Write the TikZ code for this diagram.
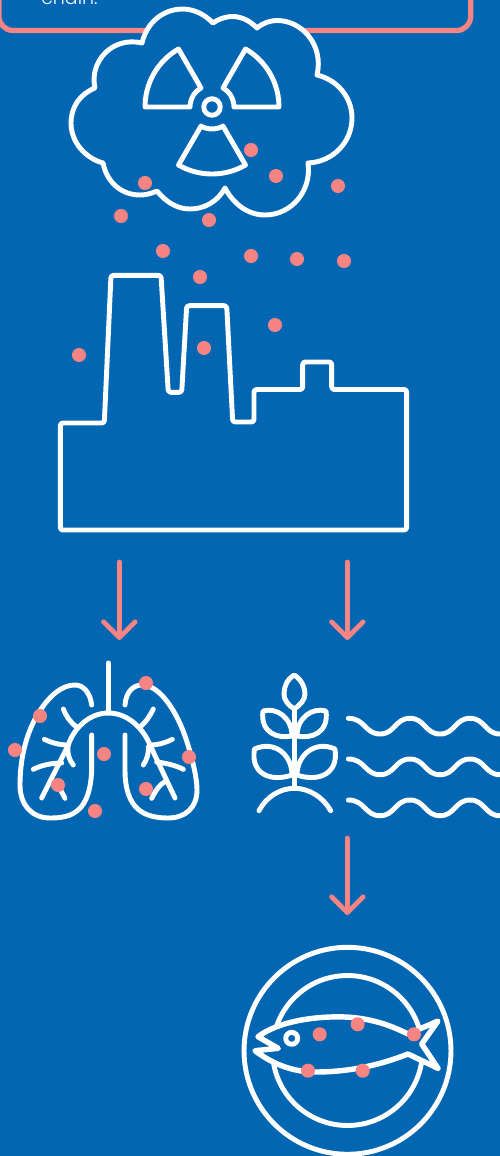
\documentclass[tikz,border=0pt]{standalone}
\usepackage{fontspec}
\setmainfont{Poppins}
\usetikzlibrary{arrows.meta}
\definecolor{bgblue}{HTML}{0266B3}
\definecolor{dotpink}{HTML}{F58482}
\tikzset{
	whiteline/.style={draw=white, line width=2.8pt, line join=round, line cap=round},
	bluefill/.style={whiteline, fill=bgblue},
	pinkarrow/.style={draw=dotpink, line width=2.7pt, line cap=round, -{Straight Barb[length=9pt,width=18pt,round]}},
}
\begin{document}
\begin{tikzpicture}[x=0.02cm, y=-0.02cm]
	% page
	\fill[bgblue] (0,0) rectangle (500,1156);
	\useasboundingbox (0,0) rectangle (500,1156);

	% text panel, cut by the page edge
	\draw[dotpink, line width=3pt, rounded corners=8pt] (-1,-40) rectangle (470.7,30.5);
	\node[anchor=base west, inner sep=0pt, text=white, font=\fontsize{10.8}{12}\selectfont\fontspec{Poppins Light}] (chain) at (41,4.5) {chain.};

	% cloud
	\draw[bluefill] (142,43) .. controls (147,22) and (163,9.5) .. (182,9) .. controls (195,9) and (205,15) .. (213,23)
		.. controls (220,18) and (228,16.5) .. (232,16.5) .. controls (242,16.5) and (250,21) .. (257,28)
		.. controls (263,23) and (270,20.5) .. (277,20.5) .. controls (302,20.5) and (324,45) .. (317,75)
		.. controls (338,80) and (352,98) .. (352,118) .. controls (352,142) and (333,162) .. (308,163)
		.. controls (312,190) and (292,215) .. (265,215) .. controls (247,215) and (233,203) .. (225,188)
		.. controls (218,201) and (205,209) .. (190,209) .. controls (177,209) and (166,202) .. (157,191)
		.. controls (150,194) and (145,195) .. (140,195) .. controls (122,195) and (107,183) .. (103,163)
		.. controls (85,158) and (71,142) .. (71,123) .. controls (71,107) and (80,94) .. (95,88)
		.. controls (89,62) and (112,36) .. (142,43) -- cycle;

	% radiation sign
	\foreach \a in {60,180,300}
		\draw[whiteline, variable=\t] plot[domain=\a:\a+60, samples=20] ({212+67*cos(\t)}, {107+67*sin(\t)})
			-- plot[domain=\a+60:\a, samples=8] ({212+22*cos(\t)}, {107+22*sin(\t)}) -- cycle;
	\draw[whiteline] (212,107) circle (4.7pt);

	% factory
	\draw[whiteline, rounded corners=1.5pt] (60.3,530) -- (60.3,423) -- (104.3,423) -- (111,275.3) -- (161,275.3) -- (168.3,392.3) -- (181.7,392.3) -- (186.7,305.7)
		-- (226.7,305.7) -- (232.7,422) -- (254,422) -- (254,389.5) -- (302.7,389.5) -- (302.7,362) -- (331.7,362) -- (331.7,389.5)
		-- (406.7,389.5) -- (406.7,530) -- cycle;

	% arrows
	\coordinate (arrowa) at (119.3,562);
	\coordinate (lungs) at (119.3,640);
	\coordinate (arrowb) at (347.3,562);
	\coordinate (plant) at (347.3,640);
	\coordinate (arrowc) at (347.3,838);
	\coordinate (plate) at (347.3,915);
	\draw[pinkarrow] (arrowa) -- (lungs);
	\draw[pinkarrow] (arrowb) -- (plant);
	\draw[pinkarrow] (arrowc) -- (plate);

	% lungs
	\draw[whiteline] (108.3,663) -- (108.3,713);
	\draw[whiteline] (41.7,798) -- (68.3,745) .. controls (73,730) and (88,713) .. (108.3,713)
		.. controls (129,713) and (144,730) .. (150,745) -- (175,798);
	\draw[whiteline] (91.7,705) .. controls (90,692) and (83,685) .. (75,685) .. controls (55,685) and (38,710) .. (30,730)
		.. controls (22,750) and (20,770) .. (20,785) .. controls (20,805) and (32,818) .. (50,818)
		.. controls (72,818) and (90,812) .. (91.7,770) -- (91.7,735);
	\draw[whiteline] (125,705) .. controls (126,692) and (133,685) .. (142,685) .. controls (160,685) and (178,712) .. (188,745)
		.. controls (194,765) and (197,780) .. (197,790) .. controls (197,808) and (185,818) .. (168,818)
		.. controls (145,818) and (125,810) .. (125,770) -- (125,735);
	\draw[whiteline] (63.3,709) .. controls (66,716) and (70,722) .. (76.7,727);
	\draw[whiteline] (44.3,739.3) .. controls (52,743) and (60,745) .. (68.3,745);
	\draw[whiteline] (68,747) .. controls (67,752) and (69,760) .. (73.3,765);
	\draw[whiteline] (33.3,769.3) .. controls (42,765) and (52,763) .. (61.7,763);
	\draw[whiteline] (57.7,784.3) -- (65,798.3);
	\draw[whiteline] (153.3,709) .. controls (150,716) and (146,722) .. (140,727);
	\draw[whiteline] (172.3,739.3) .. controls (165,743) and (158,745) .. (150,745);
	\draw[whiteline] (148.3,747) .. controls (149,752) and (147,760) .. (143.3,765);
	\draw[whiteline] (183.3,769.3) .. controls (175,765) and (165,763) .. (156.7,762);
	\draw[whiteline] (165,781.7) .. controls (160,784) and (156,790) .. (151.7,798.3);

	% plant
	\draw[whiteline] (294.3,710) -- (294.3,787);
	\draw[whiteline] (294.3,675) .. controls (286,680) and (284,688) .. (284,694) .. controls (284,700) and (288,705) .. (294.3,709)
		.. controls (300,705) and (305,700) .. (305,694) .. controls (305,688) and (302,680) .. (294.3,675) -- cycle;
	\draw[whiteline] (263,711) .. controls (277,707) and (292,718) .. (292,736) .. controls (278,739) and (260,733) .. (263,711) -- cycle;
	\draw[whiteline] (326,711) .. controls (312,707) and (297,718) .. (297,736) .. controls (311,739) and (329,733) .. (326,711) -- cycle;
	\draw[whiteline] (254.5,749) .. controls (275,740) and (292,755) .. (292,775) .. controls (272,782) and (250,775) .. (254.5,749) -- cycle;
	\draw[whiteline] (335,749) .. controls (315,740) and (297,755) .. (297,775) .. controls (317,782) and (339,775) .. (335,749) -- cycle;
	\draw[whiteline] (259,810.7) .. controls (266,797) and (280,788.3) .. (294.3,788.3) .. controls (309,788.3) and (323,797) .. (330.7,810.7);

	% water
	\foreach \y in {718.3,759,800}
		\draw[whiteline] (348.3,\y) .. controls (365,\y) and (365,\y+15.7) .. (380,\y+15.7)
			.. controls (395,\y+15.7) and (395,\y) .. (410,\y) .. controls (425,\y) and (425,\y+15.7) .. (440,\y+15.7)
			.. controls (455,\y+15.7) and (455,\y) .. (470,\y) .. controls (485,\y) and (485,\y+15.7) .. (500,\y+15.7) -- (510,\y+14);

	% plate and fish
	\draw[whiteline] (347.5,1050.8) circle (2.07cm);
	\draw[whiteline] (347.5,1050.5) circle (1.5cm);
	\draw[bluefill, line width=3.1pt] (258,1036.7) .. controls (280,1020) and (320,1016) .. (345,1017) .. controls (370,1018) and (390,1025) .. (408,1034)
		-- (438,1021) -- (421.7,1044) -- (438,1068.3) -- (408,1054)
		.. controls (380,1065) and (350,1072) .. (315,1072) .. controls (290,1072) and (270,1062) .. (255,1050.7)
		-- (278.3,1048.3) -- cycle;
	\draw[whiteline] (291.7,1038.3) circle (3.4pt);

	% particles
	\foreach \x/\y in {251/150,276/176,338/186,145/183,121/216,209/220,163/251,251/256,297/259,344/261,200/277,275/325,79/355,204/348,
		146/683,40/716,15/750,104/754,189/757,58/785,146/789,95/811,
		319.7/1034.3,357.7/1024.3,414/1034.3,308/1070.7,362.7/1070.7}
		\fill[dotpink] (\x,\y) circle (4pt);
\end{tikzpicture}
\end{document}
